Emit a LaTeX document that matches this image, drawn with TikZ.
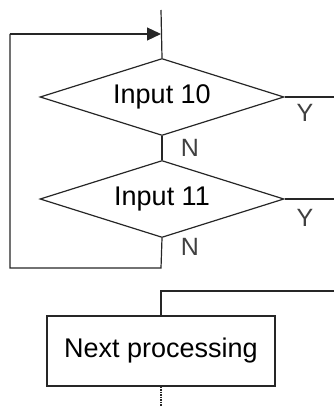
\documentclass[tikz,border=0pt]{standalone}
\usepackage{fontspec}
\setmainfont{Liberation Sans}
\usepackage{tikz}
\usetikzlibrary{arrows.meta,shapes.geometric}

\begin{document}
\begin{tikzpicture}[x=1pt, y=-1pt, >={Triangle[length=14pt,width=13pt]},
    line/.style={line width=1.2pt, black!85},
    decision/.style={diamond, draw, line width=1.2pt, black!85, text=black, inner sep=0pt,
        shape aspect=3.17, minimum width=244pt, minimum height=77pt,
        font=\fontsize{27}{30}\selectfont},
    process/.style={rectangle, draw, line width=1.2pt, black!85, text=black, inner sep=0pt,
        minimum width=228pt, minimum height=70pt, font=\fontsize{27}{30}\selectfont},
    answer/.style={font=\fontsize{25}{28}\selectfont, text=black!75, inner sep=0pt}]
    \useasboundingbox (0,0) rectangle (334,406);

    \coordinate (start) at (161,10);
    \coordinate (merge) at (161,34);
    \node[decision] (in10) at (162,97) {Input 10};
    \node[decision] (in11) at (162,199) {Input 11};
    \node[process] (next) at (161,351) {Next processing};

    \coordinate (out10) at (334,97);
    \coordinate (out11) at (334,199);
    \coordinate (back) at (334,291);
    \coordinate (loopa) at (161,268);
    \coordinate (loopb) at (10,268);
    \coordinate (loopc) at (10,34);
    \coordinate (cont) at (161,406);

    % main line and loop
    \draw[line] (start) -- (in10.north);
    \draw[line] (in10.south) -- (in11.north);
    \draw[line] (in11.south) -- (loopa) -- (loopb) -- (loopc);
    \draw[line, ->] (loopc) -- (merge);

    % Y branches
    \draw[line] (in10.east) -- (out10);
    \draw[line] (in11.east) -- (out11);
    \draw[line] (back) -| (next.north);
    \draw[line width=2.5pt, black!85, dash pattern=on 1.5pt off 1pt] (next.south) -- (cont);

    \node[answer] (y10) at (305,113) {Y};
    \node[answer] (n10) at (190,148) {N};
    \node[answer] (y11) at (305,218) {Y};
    \node[answer] (n11) at (190,247) {N};
\end{tikzpicture}
\end{document}
